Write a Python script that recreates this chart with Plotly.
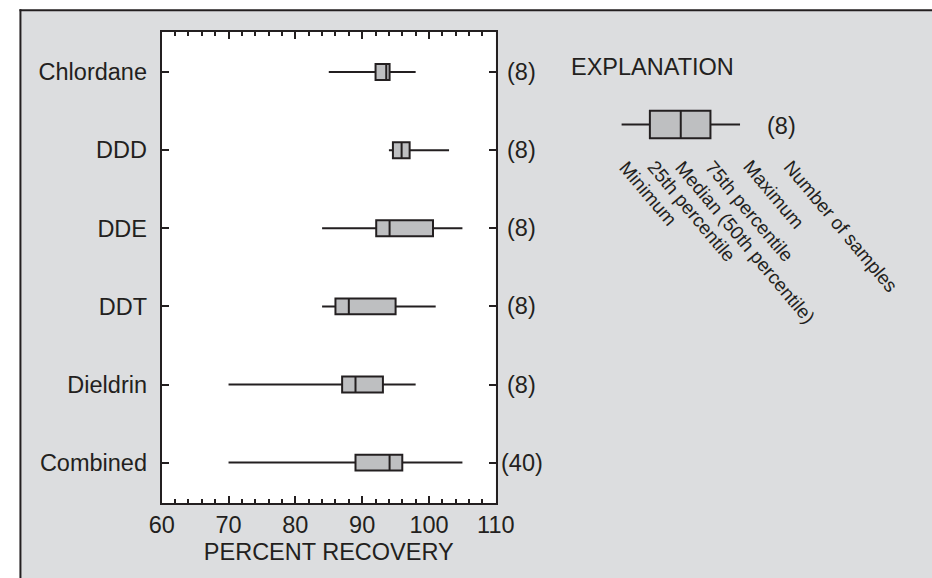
import plotly.graph_objects as go

# ---------------- data ----------------
compounds = ["Chlordane", "DDD", "DDE", "DDT", "Dieldrin", "Combined"]
minimum   = [85.0, 94.0, 84.0, 84.0, 70.0, 70.0]
pct25     = [92.0, 94.6, 92.1, 86.0, 87.0, 89.0]
median    = [93.6, 95.9, 94.1, 88.0, 89.0, 94.1]
pct75     = [94.1, 97.1, 100.6, 95.0, 93.1, 96.0]
maximum   = [98.0, 103.0, 105.0, 101.0, 98.0, 105.0]
n_samples = [8, 8, 8, 8, 8, 40]

x_ticks = [60, 70, 80, 90, 100, 110]

# explanation (schematic example box)
expl_stats = [0, 24, 50, 75, 100]   # min, 25th, median, 75th, max (schematic units)
expl_n = 8
expl_labels = ["Minimum", "25th percentile", "Median (50th percentile)",
               "75th percentile", "Maximum", "Number of samples"]

# ---------------- style ----------------
W, H = 932, 578
INK = "#231f20"
BG = "#dcdddf"
BOXFILL = "#bebfc1"
FONT = "Liberation Sans, Arial, Helvetica, sans-serif"
FS = 23.5


def px_x(p):
    return p / W


def px_y(p):
    return 1 - p / H


fig = go.Figure()

fig.add_trace(go.Box(
    orientation="h",
    y=compounds,
    lowerfence=minimum, q1=pct25, median=median, q3=pct75, upperfence=maximum,
    width=0.204, whiskerwidth=0,
    fillcolor=BOXFILL, line=dict(color=INK, width=2),
    boxpoints=False, hoverinfo="skip", showlegend=False,
    xaxis="x", yaxis="y",
))

fig.add_trace(go.Box(
    orientation="h",
    y=[0],
    lowerfence=[expl_stats[0]], q1=[expl_stats[1]], median=[expl_stats[2]],
    q3=[expl_stats[3]], upperfence=[expl_stats[4]],
    width=0.56, whiskerwidth=0,
    fillcolor=BOXFILL, line=dict(color=INK, width=2),
    boxpoints=False, hoverinfo="skip", showlegend=False,
    xaxis="x2", yaxis="y2",
))

shapes = [
    # grey outer panel
    dict(type="rect", xref="paper", yref="paper", layer="below",
         x0=px_x(7.7), x1=1.2, y0=-0.2, y1=px_y(10.3),
         fillcolor=BG, line=dict(width=0)),
    # frame: top and left edges only (panel continues past the picture)
    dict(type="line", xref="paper", yref="paper", layer="below",
         x0=px_x(6.7), x1=1.2, y0=px_y(10.3), y1=px_y(10.3),
         line=dict(color=INK, width=2)),
    dict(type="line", xref="paper", yref="paper", layer="below",
         x0=px_x(7.7), x1=px_x(7.7), y0=px_y(9.3), y1=-0.2,
         line=dict(color=INK, width=2)),
    # white plot area
    dict(type="rect", xref="x domain", yref="y domain", layer="below",
         x0=0, x1=1, y0=0, y1=1, fillcolor="white", line=dict(width=0)),
]

annotations = []
for i, n in enumerate(n_samples):
    annotations.append(dict(
        xref="paper", yref="y", x=px_x(527), y=i, text=f"({n})",
        showarrow=False, xanchor="center", yanchor="middle",
        font=dict(family=FONT, size=FS, color=INK)))

annotations.append(dict(
    xref="paper", yref="paper", x=px_x(576), y=px_y(67), text="EXPLANATION",
    showarrow=False, xanchor="left", yanchor="middle",
    font=dict(family=FONT, size=FS, color=INK)))
annotations.append(dict(
    xref="paper", yref="paper", x=px_x(796), y=px_y(126), text=f"({expl_n})",
    showarrow=False, xanchor="center", yanchor="middle",
    font=dict(family=FONT, size=FS, color=INK)))

label_starts = [630, 659, 688, 719, 758, 800]
for lab, sx in zip(expl_labels, label_starts):
    annotations.append(dict(
        xref="paper", yref="paper", x=px_x(sx - 9), y=px_y(154),
        text=lab, textangle=50, showarrow=False,
        xanchor="left", yanchor="top",
        font=dict(family=FONT, size=19, color=INK)))

fig.update_layout(
    width=W, height=H,
    autosize=False,
    margin=dict(l=0, r=0, t=0, b=0),
    paper_bgcolor="white", plot_bgcolor="white",
    font=dict(family=FONT, size=FS, color=INK),
    shapes=shapes, annotations=annotations,
    xaxis=dict(
        domain=[px_x(154), px_x(500)], anchor="y",
        range=[60, 110], tickvals=x_ticks,
        ticks="inside", ticklen=7, tickwidth=2, tickcolor=INK,
        minor=dict(dtick=2, tick0=60, ticks="inside", ticklen=4, tickwidth=1.5, tickcolor=INK),
        showline=True, linewidth=2, linecolor=INK, mirror="ticks",
        showgrid=False, zeroline=False,
        tickfont=dict(family=FONT, size=FS, color=INK),
        title=dict(text="PERCENT RECOVERY", standoff=6,
                   font=dict(family=FONT, size=FS, color=INK)),
    ),
    yaxis=dict(
        domain=[px_y(503), px_y(32)], anchor="x",
        type="category", categoryorder="array", categoryarray=compounds,
        range=[5.517, -0.513],
        ticks="inside", ticklen=7, tickwidth=2, tickcolor=INK,
        showline=True, linewidth=2, linecolor=INK, mirror="ticks",
        showgrid=False, zeroline=False, ticklabelstandoff=8,
        tickfont=dict(family=FONT, size=FS, color=INK),
    ),
    xaxis2=dict(domain=[px_x(630), px_x(753)], anchor="y2", range=[0, 100],
                visible=False, showgrid=False, zeroline=False),
    yaxis2=dict(domain=[px_y(149), px_y(100)], anchor="x2", range=[-0.5, 0.5],
                visible=False, showgrid=False, zeroline=False),
)

fig.write_html(
    "out.html",
    config={"responsive": False, "displayModeBar": False},
    post_script="document.body.style.margin='0';document.body.style.overflow='hidden';",
)
